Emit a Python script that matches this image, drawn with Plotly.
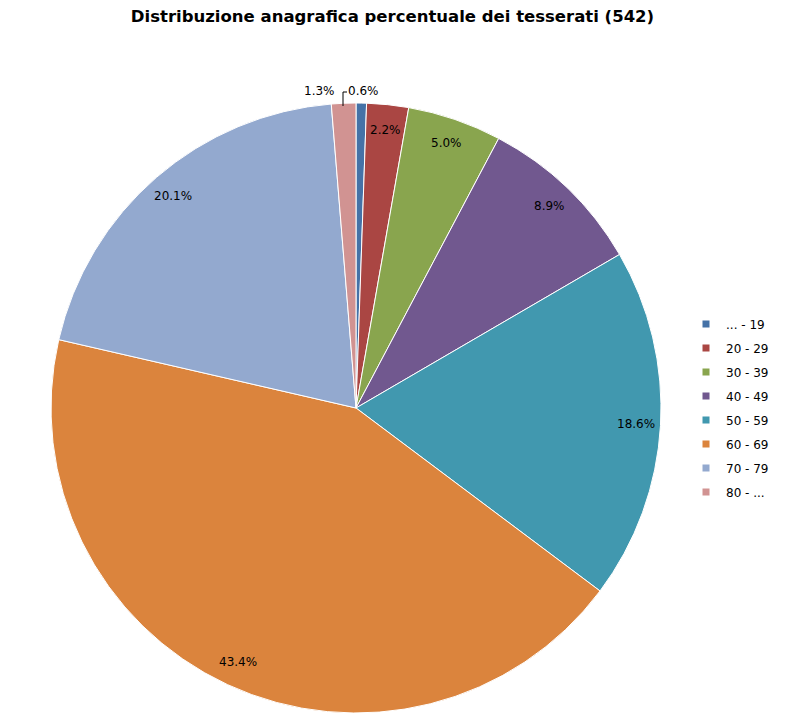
import math
import plotly.graph_objects as go

# Fasce d'età e numero di tesserati (totale 542)
fasce = ["... - 19", "20 - 29", "30 - 39", "40 - 49", "50 - 59", "60 - 69", "70 - 79", "80 - ..."]
tesserati = [3, 12, 27, 48, 101, 235, 109, 7]
colori = ["#4572A7", "#AA4643", "#89A54E", "#71588F", "#4198AF", "#DB843D", "#93A9CF", "#D19392"]

# la pagina ha 8px di margine nel body: la figura è ridotta per starci dentro
OFF = 8
W, H = 785 - 2 * OFF, 721 - 2 * OFF
cx, cy, R = 356 - OFF, 408 - OFF, 305  # centro e raggio della torta
T = 103 - OFF                          # margine superiore dell'area del grafico
PH = H - T                             # altezza area del grafico


def px2paper(px, py):
    return px / W, 1 - (py - T) / PH


fig = go.Figure(go.Pie(
    labels=fasce,
    values=tesserati,
    sort=False,
    direction="clockwise",
    rotation=0,
    marker=dict(colors=colori, line=dict(color="white", width=1)),
    textinfo="none",
    hoverinfo="label+percent",
    showlegend=False,
    domain=dict(x=[(cx - R) / W, (cx + R) / W], y=[0, 1]),
))

# voci di legenda con quadratini piccoli, una per fascia
for i, (f, c) in enumerate(zip(fasce, colori)):
    fig.add_trace(go.Scatter(
        x=[None], y=[None], mode="markers", name=f,
        marker=dict(symbol="square", size=7, color=c),
        legendgroup=f"g{i}", showlegend=True, hoverinfo="skip",
    ))

# etichette percentuali vicino al bordo interno di ogni fetta
totale = sum(tesserati)
cum = 0
for i, v in enumerate(tesserati):
    mid = (cum + v / 2) / totale
    cum += v
    ang = 2 * math.pi * mid
    pct = f"{100 * v / totale:.1f}%"
    if v / totale < 0.015:
        # fette piccole: etichetta fuori, spostata di lato
        r = R + 12
        shift = 2 if i == 0 else -24
    else:
        r = R * 0.918
        shift = 0
    x, y = px2paper(cx + r * math.sin(ang), cy - r * math.cos(ang))
    fig.add_annotation(
        x=x, y=y, xref="paper", yref="paper",
        xanchor="center", yanchor="middle",
        text=pct, showarrow=False, xshift=shift,
        font=dict(family="DejaVu Sans", size=12, color="black"),
    )

# linea di richiamo per l'etichetta 0.6%
p1 = px2paper(343 - OFF, 106 - OFF)
p2 = px2paper(343 - OFF, 92 - OFF)
p3 = px2paper(347 - OFF, 92 - OFF)
fig.add_shape(
    type="path", xref="paper", yref="paper",
    path=f"M {p1[0]} {p1[1]} L {p2[0]} {p2[1]} L {p3[0]} {p3[1]}",
    line=dict(color="black", width=1),
)

lx, ly = px2paper(678, cy)
fig.update_layout(
    width=W, height=H,
    paper_bgcolor="white",
    plot_bgcolor="white",
    margin=dict(l=0, r=0, t=T, b=0),
    xaxis=dict(visible=False),
    yaxis=dict(visible=False),
    title=dict(
        text="<b>Distribuzione anagrafica percentuale dei tesserati (542)</b>",
        x=0.5, xanchor="center", y=1 - (16 - OFF) / H, yanchor="middle",
        font=dict(family="DejaVu Sans", size=16.5, color="black"),
    ),
    legend=dict(
        x=lx, xanchor="left", y=ly, yanchor="middle",
        font=dict(family="DejaVu Sans", size=12, color="black"),
        itemwidth=30, tracegroupgap=5,
    ),
)

fig.write_html("out.html")
